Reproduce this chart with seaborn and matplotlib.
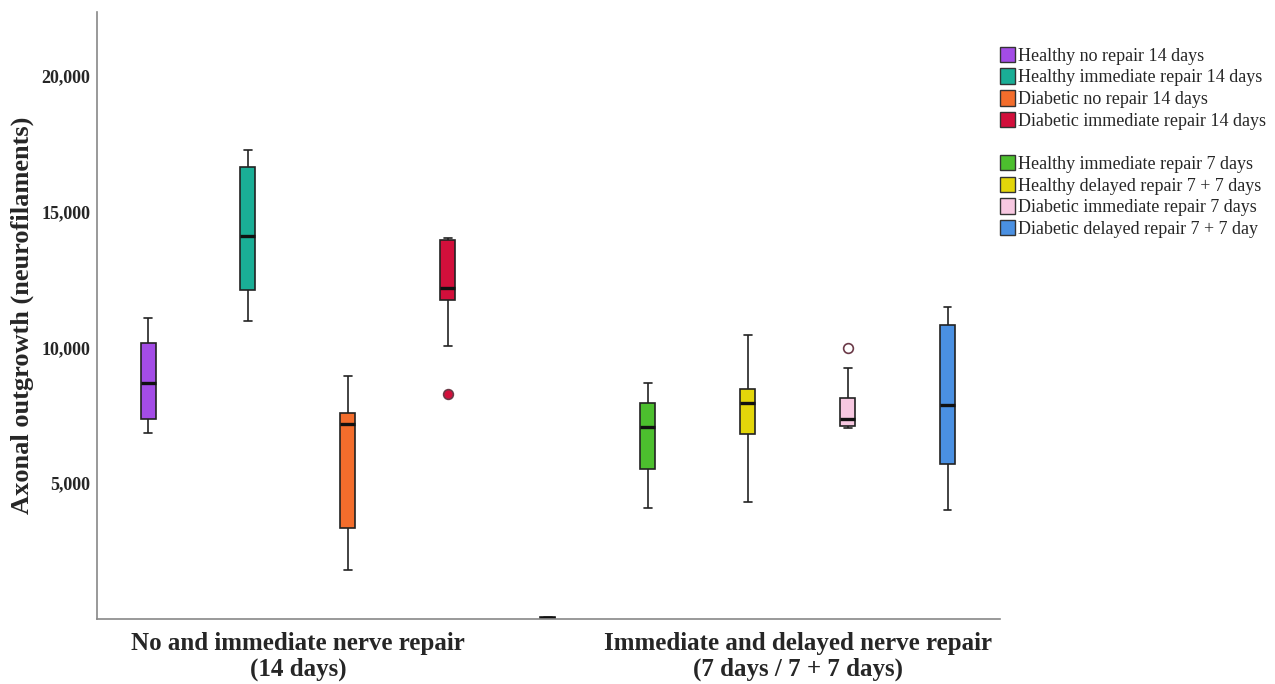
"""
Axonal outgrowth box plot — no / immediate / delayed nerve repair
"""

import numpy as np
import pandas as pd
import matplotlib
matplotlib.use("Agg")
import matplotlib.pyplot as plt
import matplotlib.patches as mpatches
import seaborn as sns

sns.set_style("white")
plt.rcParams["font.family"] = ["Liberation Serif", "DejaVu Serif"]

# group names (blank slot separates the two experiments)
groups = [
    "Healthy no repair 14 days",
    "Healthy immediate repair 14 days",
    "Diabetic no repair 14 days",
    "Diabetic immediate repair 14 days",
    "",
    "Healthy immediate repair 7 days",
    "Healthy delayed repair 7 + 7 days",
    "Diabetic immediate repair 7 days",
    "Diabetic delayed repair 7 + 7 day",
]
colors = ["#a34ce6", "#1aae96", "#f36d2c", "#d20f3b", "#111111",
          "#4cbf2e", "#e3d60a", "#f7c8e1", "#4a90e2"]

# five-number summaries
whisker_low = [6840, 10990, 1800, 10035, 0, 4080, 4300, 7020, 4010]
q1 = [7350, 12130, 3345, 11760, 0, 5515, 6800, 7095, 5700]
median = [8675, 14115, 7170, 12200, 40, 7060, 7940, 7350, 7870]
q3 = [10180, 16650, 7570, 13970, 80, 7940, 8455, 8125, 10810]
whisker_high = [11065, 17280, 8930, 14040, 80, 8675, 10440, 9230, 11505]

# outliers
outlier_groups = ["Diabetic immediate repair 14 days", "Diabetic immediate repair 7 days"]
outlier_values = [8270, 9960]
outlier_faces = ["#d20f3b", "#ffffff"]

category_labels = ["No and immediate nerve repair\n(14 days)",
                   "Immediate and delayed nerve repair\n(7 days / 7 + 7 days)"]
yticks = [5000, 10000, 15000, 20000]

# long table: each box built from its five numbers
rows = []
for g, a, b, c, d, e in zip(groups, whisker_low, q1, median, q3, whisker_high):
    for v in (a, b, c, d, e):
        rows.append({"group": g, "value": v})
df = pd.DataFrame(rows)
palette = dict(zip(groups, colors))

fig = plt.figure(figsize=(12.75, 6.84), dpi=100)
ax = fig.add_axes([0.0761, 0.095, 0.708, 0.8875])

sns.boxplot(data=df, x="group", y="value", hue="group", order=groups,
            hue_order=groups, palette=palette, legend=False, dodge=False,
            whis=(0, 100), width=0.15, linewidth=1.2, linecolor="#222222",
            saturation=1, showfliers=False,
            medianprops={"linewidth": 2.4, "color": "#111111"},
            ax=ax)

out_df = pd.DataFrame({"group": outlier_groups, "value": outlier_values})
sns.stripplot(data=out_df, x="group", y="value", hue="group", order=groups,
              hue_order=outlier_groups, palette=dict(zip(outlier_groups, outlier_faces)),
              jitter=False, size=7, linewidth=1.2, edgecolor="#6b3a48",
              legend=False, ax=ax)

ax.set_xlim(-0.51, 8.52)
ax.set_ylim(0, 22350)
ax.set_xticks([1.5, 6.5])
ax.set_xticklabels(category_labels, fontsize=18, fontweight="bold", linespacing=1.15)
ax.set_yticks(yticks)
ax.set_yticklabels([f"{t:,}" for t in yticks], fontsize=13, fontweight="bold")
ax.tick_params(axis="both", length=0, pad=5)
ax.tick_params(axis="x", pad=9)
ax.set_xlabel("")
ax.set_ylabel("Axonal outgrowth (neurofilaments)", fontsize=19, fontweight="bold")
ax.yaxis.set_label_coords(-0.07, 0.5)

for side in ("top", "right"):
    ax.spines[side].set_visible(False)
for side in ("left", "bottom"):
    ax.spines[side].set_color("#888888")
    ax.spines[side].set_linewidth(1.2)

# legend: two blocks split by an empty row
handles = []
for g, c in zip(groups, colors):
    if g == "":
        handles.append(mpatches.Patch(color="none", label=" "))
    else:
        handles.append(mpatches.Patch(facecolor=c, edgecolor="#333333", linewidth=1, label=g))
fig.legend(handles=handles, loc="upper left", bbox_to_anchor=(0.7785, 0.942),
           frameon=False, fontsize=13, handlelength=0.85, handleheight=0.95,
           handletextpad=0.15, labelspacing=0.2, borderaxespad=0)

fig.savefig("out.png", dpi=100)
